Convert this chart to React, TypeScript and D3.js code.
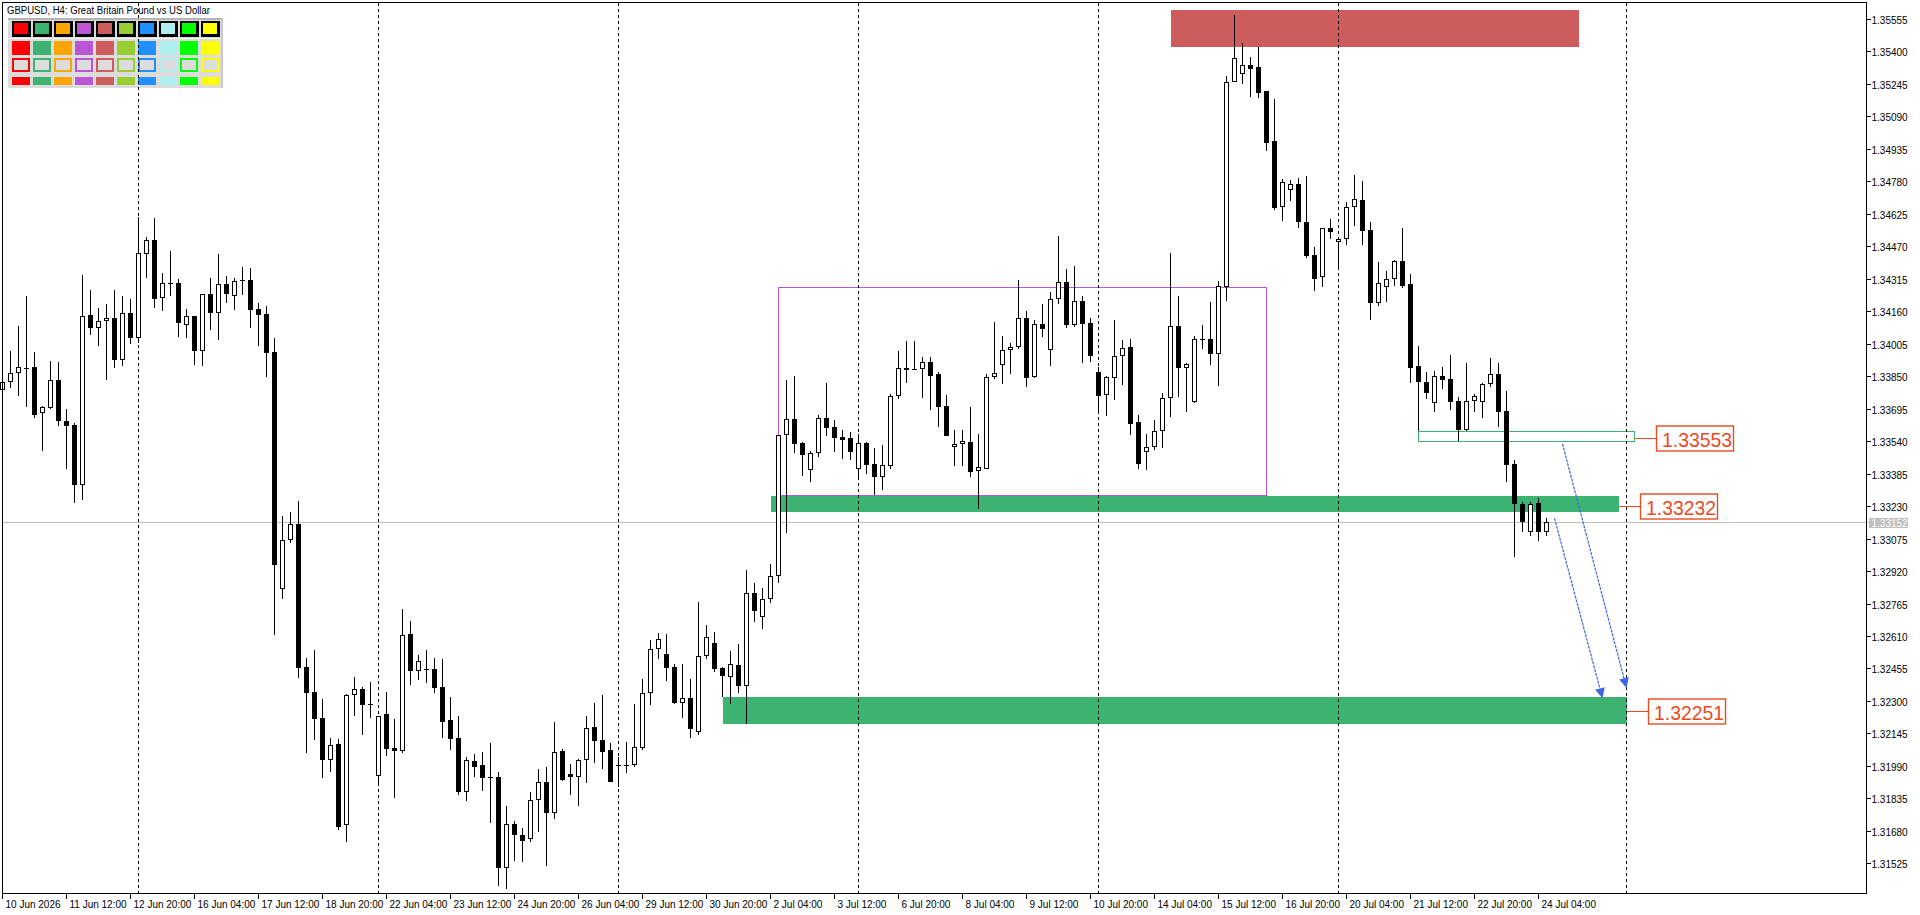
import * as d3 from 'd3';

// GBPUSD H4 bars (bar 0 = 10 Jun 2026 04:00)
const open = [
  1.33786, 1.33821, 1.33865, 1.33891, 1.33893, 1.33672, 1.33698, 1.33831, 1.33636, 1.33616,
  1.3333, 1.34142, 1.34082, 1.34112, 1.3413, 1.33929, 1.34152, 1.3403, 1.34432, 1.345,
  1.34225, 1.34297, 1.34295, 1.34096, 1.34136, 1.33971, 1.34243, 1.34154, 1.34289, 1.34233,
  1.34307, 1.34309, 1.3417, 1.34146, 1.33965, 1.32836, 1.33067, 1.33143, 1.3246, 1.32341,
  1.32217, 1.32016, 1.32096, 1.3171, 1.32327, 1.32359, 1.32285, 1.31941, 1.32237, 1.32074,
  1.32063, 1.3262, 1.32445, 1.32451, 1.32453, 1.32367, 1.32209, 1.32123, 1.31867, 1.32014,
  1.31993, 1.31935, 1.31937, 1.31504, 1.31711, 1.3166, 1.3164, 1.31826, 1.31912, 1.31764,
  1.32061, 1.31951, 1.31935, 1.32017, 1.32176, 1.32114, 1.32066, 1.31995, 1.31993, 1.31993,
  1.32077, 1.32336, 1.32546, 1.32523, 1.32462, 1.32289, 1.32313, 1.32153, 1.32513, 1.32575,
  1.32456, 1.32416, 1.3247, 1.32373, 1.32814, 1.32699, 1.32785, 1.32895, 1.33568, 1.33644,
  1.33531, 1.33401, 1.33482, 1.33649, 1.33608, 1.3356, 1.33555, 1.33409, 1.3353, 1.33431,
  1.33371, 1.33423, 1.33754, 1.33889, 1.33885, 1.33883, 1.33916, 1.33861, 1.33708, 1.33511,
  1.33525, 1.33536, 1.33396, 1.33409, 1.33845, 1.33905, 1.33974, 1.33988, 1.34126, 1.33848,
  1.34098, 1.33974, 1.34217, 1.34298, 1.34096, 1.34209, 1.34103, 1.33869, 1.33759, 1.3384,
  1.33945, 1.33988, 1.3363, 1.33487, 1.33511, 1.3359, 1.33745, 1.34088, 1.33888, 1.33729,
  1.34027, 1.34027, 1.33958, 1.34278, 1.35253, 1.35291, 1.35336, 1.35325, 1.35212, 1.34971,
  1.34656, 1.34738, 1.34766, 1.34585, 1.34427, 1.34322, 1.34556, 1.34489, 1.34504, 1.34656,
  1.34691, 1.34548, 1.34201, 1.34275, 1.34313, 1.34399, 1.34289, 1.33898, 1.33821, 1.33721,
  1.3385, 1.33836, 1.33731, 1.33594, 1.33731, 1.33726, 1.33812, 1.33862, 1.33683, 1.33431,
  1.33239, 1.33105, 1.33244, 1.33105,
];
const high = [
  1.33837, 1.33971, 1.34092, 1.34233, 1.33967, 1.3371, 1.33923, 1.33917, 1.33692, 1.33626,
  1.34333, 1.34261, 1.34174, 1.34195, 1.34261, 1.34235, 1.34219, 1.34611, 1.34514, 1.34605,
  1.34343, 1.34448, 1.34315, 1.3417, 1.34136, 1.34241, 1.34319, 1.34434, 1.34327, 1.34319,
  1.34369, 1.34365, 1.34199, 1.34183, 1.34032, 1.33182, 1.33202, 1.33254, 1.32504, 1.32542,
  1.32307, 1.32122, 1.32116, 1.32333, 1.32414, 1.32367, 1.3239, 1.32227, 1.32341, 1.32214,
  1.32739, 1.32682, 1.32519, 1.32543, 1.32505, 1.325, 1.32319, 1.32228, 1.32033, 1.32047,
  1.32056, 1.32099, 1.31961, 1.31799, 1.31727, 1.31694, 1.31864, 1.31975, 1.31985, 1.322,
  1.32071, 1.32001, 1.32023, 1.32228, 1.3229, 1.32328, 1.32099, 1.32031, 1.32104, 1.32286,
  1.32405, 1.32591, 1.32624, 1.3262, 1.32478, 1.32475, 1.32405, 1.32772, 1.32663, 1.32629,
  1.32464, 1.32538, 1.32572, 1.32925, 1.32861, 1.32838, 1.32954, 1.33568, 1.33832, 1.33851,
  1.33536, 1.33495, 1.33665, 1.33818, 1.3364, 1.33593, 1.33584, 1.33573, 1.33535, 1.33508,
  1.33522, 1.33764, 1.33971, 1.34018, 1.34018, 1.33943, 1.33942, 1.3387, 1.3376, 1.33593,
  1.33593, 1.33703, 1.33574, 1.33861, 1.34109, 1.34042, 1.34007, 1.34309, 1.34161, 1.34118,
  1.34195, 1.34252, 1.34519, 1.34362, 1.34376, 1.34233, 1.34128, 1.33893, 1.33853, 1.34118,
  1.34023, 1.34028, 1.33663, 1.33574, 1.3364, 1.33768, 1.34438, 1.34233, 1.33915, 1.34043,
  1.34095, 1.34205, 1.34305, 1.35283, 1.35574, 1.35439, 1.35376, 1.3542, 1.35212, 1.35172,
  1.34792, 1.34785, 1.34795, 1.34806, 1.34467, 1.34556, 1.34601, 1.34504, 1.34682, 1.34812,
  1.34782, 1.34586, 1.34395, 1.34351, 1.34405, 1.34557, 1.34338, 1.33993, 1.33869, 1.33875,
  1.33893, 1.33952, 1.3375, 1.33913, 1.33765, 1.33819, 1.33937, 1.33913, 1.33778, 1.3345,
  1.33249, 1.33249, 1.33268, 1.33174,
];
const low = [
  1.33776, 1.33793, 1.33756, 1.33702, 1.3365, 1.33493, 1.33692, 1.3361, 1.33405, 1.33246,
  1.33258, 1.34048, 1.33992, 1.33831, 1.33891, 1.33901, 1.34004, 1.34008, 1.34321, 1.34174,
  1.34162, 1.34233, 1.34038, 1.34032, 1.33905, 1.33901, 1.34072, 1.34024, 1.34201, 1.34168,
  1.34239, 1.34078, 1.33994, 1.33847, 1.32617, 1.32786, 1.33053, 1.3241, 1.32052, 1.32114,
  1.31933, 1.31961, 1.31682, 1.31626, 1.32229, 1.32138, 1.32219, 1.31897, 1.32038, 1.31838,
  1.32053, 1.32376, 1.324, 1.32387, 1.3234, 1.32125, 1.32068, 1.31853, 1.31824, 1.31939,
  1.31872, 1.31719, 1.31417, 1.31404, 1.31536, 1.31531, 1.31628, 1.31676, 1.31514, 1.31738,
  1.3192, 1.31853, 1.318, 1.3191, 1.32006, 1.31977, 1.31915, 1.31891, 1.31958, 1.31986,
  1.32066, 1.32281, 1.325, 1.32397, 1.32287, 1.3222, 1.32125, 1.32136, 1.325, 1.32438,
  1.32321, 1.32287, 1.3234, 1.32192, 1.32675, 1.32645, 1.32769, 1.32861, 1.331, 1.33485,
  1.33375, 1.33344, 1.33465, 1.33566, 1.3349, 1.33457, 1.33452, 1.33363, 1.33385, 1.33282,
  1.33309, 1.33409, 1.33743, 1.33819, 1.33878, 1.33748, 1.3369, 1.33609, 1.33566, 1.33423,
  1.33423, 1.33371, 1.33218, 1.33409, 1.33838, 1.33815, 1.33861, 1.33978, 1.338, 1.33843,
  1.34039, 1.33901, 1.34196, 1.34082, 1.34086, 1.33915, 1.3392, 1.33676, 1.33662, 1.33738,
  1.3381, 1.33571, 1.33409, 1.33404, 1.335, 1.33508, 1.33655, 1.33753, 1.33677, 1.3372,
  1.33982, 1.33904, 1.33801, 1.34211, 1.35253, 1.35244, 1.35185, 1.3518, 1.34927, 1.34645,
  1.34593, 1.34688, 1.34559, 1.34413, 1.34259, 1.34278, 1.34504, 1.34364, 1.34478, 1.34569,
  1.34478, 1.34119, 1.34186, 1.34206, 1.34282, 1.3427, 1.33817, 1.33589, 1.33743, 1.33681,
  1.33788, 1.33689, 1.33543, 1.3359, 1.33681, 1.33652, 1.33797, 1.33609, 1.33347, 1.32986,
  1.33108, 1.33089, 1.33065, 1.33089,
];
const close = [
  1.33821, 1.33865, 1.33893, 1.33889, 1.33664, 1.33702, 1.33831, 1.33634, 1.33614, 1.3333,
  1.34136, 1.34082, 1.34112, 1.3413, 1.33929, 1.3415, 1.34034, 1.34436, 1.345, 1.34219,
  1.34297, 1.34295, 1.34104, 1.34136, 1.33971, 1.34241, 1.34154, 1.34289, 1.34241, 1.34303,
  1.34309, 1.34168, 1.34144, 1.33963, 1.3295, 1.33067, 1.33143, 1.32456, 1.32339, 1.32215,
  1.32018, 1.32092, 1.317, 1.32327, 1.32359, 1.32281, 1.32283, 1.32227, 1.32072, 1.32063,
  1.32613, 1.32445, 1.32489, 1.32449, 1.32363, 1.32201, 1.3212, 1.31867, 1.32017, 1.31986,
  1.31934, 1.31934, 1.31504, 1.31711, 1.31662, 1.31633, 1.31826, 1.31912, 1.31767, 1.32055,
  1.31924, 1.31935, 1.32017, 1.32169, 1.32111, 1.32058, 1.31915, 1.31993, 1.31995, 1.32079,
  1.32336, 1.32546, 1.32594, 1.32459, 1.32292, 1.32313, 1.32165, 1.32513, 1.32604, 1.32451,
  1.32421, 1.32475, 1.32373, 1.32814, 1.32731, 1.32785, 1.32895, 1.33568, 1.33644, 1.33528,
  1.33476, 1.33482, 1.33649, 1.33605, 1.33557, 1.33547, 1.3349, 1.3353, 1.33428, 1.33371,
  1.33425, 1.33754, 1.33888, 1.33878, 1.33878, 1.33916, 1.33853, 1.33705, 1.33566, 1.33525,
  1.33541, 1.33395, 1.33415, 1.33846, 1.33864, 1.33974, 1.33988, 1.34126, 1.33843, 1.34098,
  1.34074, 1.34217, 1.34298, 1.34096, 1.34209, 1.34101, 1.33948, 1.33757, 1.33846, 1.33945,
  1.33983, 1.33624, 1.33433, 1.33511, 1.33587, 1.33745, 1.34088, 1.33888, 1.33907, 1.34027,
  1.34025, 1.33958, 1.3428, 1.35253, 1.35368, 1.35334, 1.35318, 1.35204, 1.34965, 1.34655,
  1.34776, 1.34766, 1.34585, 1.34426, 1.34316, 1.34556, 1.3454, 1.34504, 1.34656, 1.34695,
  1.34545, 1.34201, 1.34294, 1.34313, 1.344, 1.34282, 1.33888, 1.33821, 1.33769, 1.3385,
  1.33831, 1.33729, 1.33594, 1.33731, 1.33754, 1.33812, 1.33862, 1.33681, 1.33428, 1.33239,
  1.33153, 1.33239, 1.33105, 1.33152,
];

// time scale labels, one every 8 bars
const timeLabels = [
  '10 Jun 2026', '11 Jun 12:00', '12 Jun 20:00', '16 Jun 04:00', '17 Jun 12:00',
  '18 Jun 20:00', '22 Jun 04:00', '23 Jun 12:00', '24 Jun 20:00', '26 Jun 04:00',
  '29 Jun 12:00', '30 Jun 20:00', '2 Jul 04:00', '3 Jul 12:00', '6 Jul 20:00',
  '8 Jul 04:00', '9 Jul 12:00', '10 Jul 20:00', '14 Jul 04:00', '15 Jul 12:00',
  '16 Jul 20:00', '20 Jul 04:00', '21 Jul 12:00', '22 Jul 20:00', '24 Jul 04:00',
];
const labelStep = 8;

const priceTicks = [
  1.35555, 1.354, 1.35245, 1.3509, 1.34935, 1.3478, 1.34625, 1.3447, 1.34315,
  1.3416, 1.34005, 1.3385, 1.33695, 1.3354, 1.33385, 1.3323, 1.33075, 1.3292,
  1.32765, 1.3261, 1.32455, 1.323, 1.32145, 1.3199, 1.31835, 1.3168, 1.31525,
];

// bars where the dotted vertical grid lines fall
const gridBars = [17, 47, 77, 107, 137, 167, 203];
const lastPrice = 1.33152;

// drawn objects: supply zone, range box, support band, retest box, target band
const zoneKind = ['supply', 'range', 'support', 'retest', 'target'];
const zoneFromBar = [146, 97, 96, 177, 90];
const zoneToBar = [197, 158, 202, 204, 203];
const zoneTop = [1.35598, 1.34275, 1.3328, 1.33587, 1.32321];
const zoneBottom = [1.35423, 1.33282, 1.33204, 1.3354, 1.32189];

const levelPrices = [1.33553, 1.33232, 1.32251];
const levelZone = [3, 2, 4];

const arrowFromBar = [195, 194];
const arrowFromPrice = [1.33527, 1.33172];
const arrowToBar = [203, 200];
const arrowToPrice = [1.32362, 1.32313];

const paletteColors = [
  '#ff0000', '#3cb371', '#ffa500', '#ba55d3', '#cd5c5c',
  '#9acd32', '#1e90ff', '#afeeee', '#00ff00', '#ffff00',
];

const FONT = "Tahoma, 'Liberation Sans', Arial, sans-serif";
const LABEL_RED = '#ea4a1f';

export default function App() {
  const width = 1920;
  const height = 915;
  const frameRight = 1866.5;
  const frameBottom = 893.5;

  const x = d3.scaleLinear().domain([0, 1]).range([2.5, 10.5]);
  const y = d3.scaleLinear().domain([1.31525, 1.35555]).range([863.3, 19]);
  const py = (p: number) => Math.round(y(p));

  const zoneStyle = (kind: string) => {
    if (kind === 'supply') return { fill: '#cd5c5c', stroke: 'none' };
    if (kind === 'range') return { fill: 'none', stroke: '#ba55d3' };
    if (kind === 'retest') return { fill: 'none', stroke: '#3cb371' };
    return { fill: '#3cb371', stroke: 'none' };
  };

  const candles = open.map((o, i) => {
    const c = close[i];
    const cx = x(i);
    const yo = py(o);
    const yc = py(c);
    const yh = py(high[i]);
    const yl = py(low[i]);
    let body;
    if (Math.abs(yo - yc) < 2) {
      body = <rect x={cx - 2.5} y={Math.min(yo, yc)} width={5} height={Math.max(Math.abs(yo - yc), 1)} fill='#000' />;
    } else if (c > o) {
      body = (
        <rect x={cx - 2} y={yc + 0.5} width={4} height={yo - yc - 1}
          fill='#fff' stroke='#000' strokeWidth={1} />
      );
    } else {
      body = <rect x={cx - 2.5} y={yo} width={5} height={yc - yo} fill='#000' />;
    }
    return (
      <g key={i}>
        <rect x={cx - 0.5} y={yh} width={1} height={Math.max(yl - yh, 1)} fill='#000' />
        {body}
      </g>
    );
  });

  const arrows = arrowFromBar.map((b, i) => {
    const x1 = x(b);
    const y1 = y(arrowFromPrice[i]);
    const x2 = x(arrowToBar[i]);
    const y2 = y(arrowToPrice[i]);
    const len = Math.hypot(x2 - x1, y2 - y1);
    const ux = (x2 - x1) / len;
    const uy = (y2 - y1) / len;
    const bx = x2 - ux * 10;
    const by = y2 - uy * 10;
    const head = [
      [x2, y2],
      [bx - uy * 5, by + ux * 5],
      [bx + uy * 5, by - ux * 5],
    ];
    return (
      <g key={i}>
        <line x1={x1} y1={y1} x2={bx} y2={by} stroke='#3f66e0' strokeWidth={1.2} strokeDasharray='3,1' />
        <polygon points={head.map((p) => p.join(',')).join(' ')} fill='#3f66e0' />
      </g>
    );
  });

  return (
    <div style={{ position: 'fixed', left: 0, top: 0, width, height, background: '#fff', overflow: 'hidden' }}>
      <svg width={width} height={height} style={{ display: 'block' }} fontFamily={FONT}>
        <rect width={width} height={height} fill='#fff' />

        {/* colour picker panel */}
        <g shapeRendering='crispEdges'>
          <rect x={8} y={18} width={215} height={70} fill='#dcdcdc' />
          <rect x={8} y={18} width={215} height={2} fill='#b4b4b4' />
          <rect x={221} y={18} width={2} height={70} fill='#c8c8c8' />
          <rect x={8} y={38} width={213} height={1} fill='#f4f4f4' />
          {paletteColors.map((col, i) => {
            const sx = 11.5 + 21 * i;
            return (
              <g key={col}>
                <rect x={sx} y={21} width={19} height={16} fill='#000' />
                <rect x={sx + 2} y={23} width={14} height={11} fill={col} />
                <rect x={sx} y={40.5} width={18.5} height={14.5} fill={col} />
                <rect x={sx + 1} y={59.3} width={16.3} height={11.4} fill='#dcdcdc' stroke={col} strokeWidth={2} />
                <rect x={sx} y={76.7} width={18.5} height={8.3} fill={col} />
              </g>
            );
          })}
        </g>
        <text x={7} y={13.5} fontSize={10} textLength={203} lengthAdjust='spacingAndGlyphs' fill='#000'>
          GBPUSD, H4:  Great Britain Pound vs US Dollar
        </text>

        {/* objects behind the bars */}
        <g shapeRendering='crispEdges'>
          {zoneKind.map((kind, i) => {
            const st = zoneStyle(kind);
            const x0 = x(zoneFromBar[i]);
            const x1 = x(zoneToBar[i]);
            const y0 = py(zoneTop[i]) + (st.fill === 'none' ? 0.5 : 0);
            const y1 = py(zoneBottom[i]) + (st.fill === 'none' ? 0.5 : 0);
            return (
              <rect key={kind} x={x0} y={y0} width={x1 - x0} height={y1 - y0}
                fill={st.fill} stroke={st.stroke} strokeWidth={1} />
            );
          })}
        </g>

        {/* grid */}
        <g shapeRendering='crispEdges'>
          {gridBars.map((b) => (
            <line key={b} x1={x(b)} x2={x(b)} y1={3} y2={frameBottom} stroke='#000' strokeDasharray='3,3' />
          ))}
          <line x1={2.5} x2={1869} y1={py(lastPrice) + 0.5} y2={py(lastPrice) + 0.5} stroke='#c0c0c0' />
        </g>

        <g shapeRendering='crispEdges'>{candles}</g>

        {arrows}

        {/* price level labels */}
        {levelPrices.map((p, i) => {
          const x0 = x(zoneToBar[levelZone[i]]);
          const ly = py(p) + 0.5;
          return (
            <g key={p}>
              <line x1={x0} x2={x0 + 22} y1={ly} y2={ly} stroke={LABEL_RED} strokeWidth={1.2} shapeRendering='crispEdges' />
              <rect x={x0 + 22} y={ly - 12.5} width={77} height={25} fill='#fff' stroke={LABEL_RED} strokeWidth={1.4} />
              <text x={x0 + 27.5} y={ly + 8} fontSize={21} fill={LABEL_RED}
                fontFamily="'Liberation Sans', Arial, sans-serif" textLength={70} lengthAdjust='spacingAndGlyphs'>
                {p.toFixed(5)}
              </text>
            </g>
          );
        })}

        {/* frame */}
        <rect x={2.5} y={2.5} width={frameRight - 2.5} height={frameBottom - 2.5} fill='none' stroke='#000' shapeRendering='crispEdges' />

        {/* price scale */}
        <g shapeRendering='crispEdges' fontSize={10} fontFamily="'Liberation Sans', Arial, sans-serif">
          {priceTicks.map((t) => {
            const ty = py(t) + 0.5;
            return (
              <g key={t}>
                <line x1={frameRight} x2={frameRight + 4} y1={ty} y2={ty} stroke='#000' />
                <text x={1871.5} y={ty + 4} fill='#000'>{t.toFixed(5)}</text>
              </g>
            );
          })}
          <rect x={1869} y={py(lastPrice) - 4} width={39} height={10} fill='#c0c0c0' />
          <text x={1871.5} y={py(lastPrice) + 4.5} fill='#fff'>{lastPrice.toFixed(5)}</text>
        </g>

        {/* time scale */}
        <g shapeRendering='crispEdges' fontSize={10}
          fontFamily="'Liberation Sans Narrow', 'Liberation Sans', Arial, sans-serif">
          {timeLabels.map((lab, i) => {
            const tx = x(i * labelStep);
            return (
              <g key={lab}>
                <line x1={tx} x2={tx} y1={frameBottom} y2={frameBottom + 5} stroke='#000' />
                <text x={tx + 3} y={908} fill='#000'>{lab}</text>
              </g>
            );
          })}
        </g>
      </svg>
    </div>
  );
}
